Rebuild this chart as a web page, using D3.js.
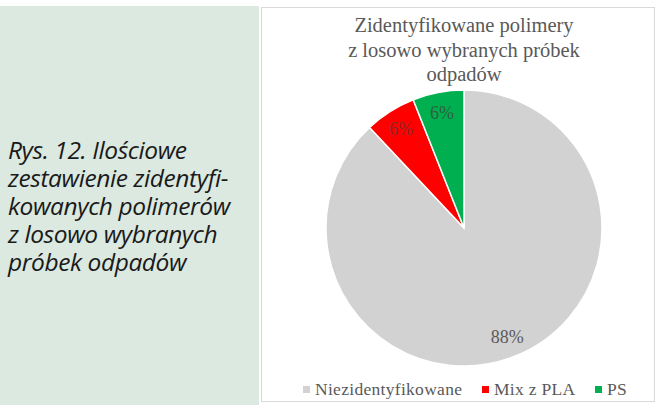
<!DOCTYPE html>
<html>
<head>
<meta charset="utf-8">
<script src="https://cdn.jsdelivr.net/npm/d3@7"></script>
<style>
  html, body { margin: 0; padding: 0; background: #ffffff; }
  svg { display: block; }
</style>
</head>
<body>
<svg id="fig" width="657" height="405"></svg>
<script>
// Polymer identification results for random waste samples
const categories = ["Niezidentyfikowane", "Mix z PLA", "PS"];
const shares = [88, 6, 6];
const sliceColors = ["#d2d2d2", "#ff0000", "#00b050"];
const labelColors = ["#5a5a5a", "#8c2a2a", "#2f5f3f"];
const titleLines = ["Zidentyfikowane polimery", "z losowo wybranych próbek", "odpadów"];
const captionLines = ["Rys. 12. Ilościowe", "zestawienie zidentyfi-", "kowanych polimerów", "z losowo wybranych", "próbek odpadów"];

const svg = d3.select("#fig");

// Caption side panel
svg.append("rect").attr("x", 0).attr("y", 6).attr("width", 259).attr("height", 399).attr("fill", "#dbe9e0");
const cap = svg.append("text")
  .attr("font-family", "'Open Sans', sans-serif")
  .attr("font-style", "italic")
  .attr("font-size", 24.5)
  .attr("letter-spacing", "-0.4")
  .attr("fill", "#1a1a1a");
captionLines.forEach((t, i) => {
  cap.append("tspan").attr("x", 8).attr("y", 159 + i * 28).text(t);
});

// Chart frame
svg.append("rect").attr("x", 261.5).attr("y", 7.5).attr("width", 393).attr("height", 394)
  .attr("fill", "#ffffff").attr("stroke", "#d9d9d9").attr("stroke-width", 1);

// Title
const title = svg.append("text")
  .attr("text-anchor", "middle")
  .attr("font-family", "'Liberation Serif', 'Times New Roman', serif")
  .attr("font-size", 20.5)
  .attr("fill", "#595959");
titleLines.forEach((t, i) => {
  title.append("tspan").attr("x", 464).attr("y", 32 + i * 24.5).text(t);
});

// Pie
const cx = 464, cy = 228, r = 138;
const pie = d3.pie().sort(null).value(d => d)(shares);
const arc = d3.arc().innerRadius(0).outerRadius(r);
const g = svg.append("g").attr("transform", `translate(${cx},${cy})`);
g.selectAll("path").data(pie).join("path")
  .attr("d", arc)
  .attr("fill", (d, i) => sliceColors[i])
  .attr("stroke", "#ffffff")
  .attr("stroke-width", 1.5);

// Value labels, placed along each slice's mid-angle
const labelArc = d3.arc().innerRadius(0).outerRadius(r * 1.7);
g.selectAll("text.val").data(pie).join("text")
  .attr("class", "val")
  .attr("transform", d => `translate(${labelArc.centroid(d)})`)
  .attr("text-anchor", "middle")
  .attr("dy", "0.35em")
  .attr("font-family", "'Liberation Serif', 'Times New Roman', serif")
  .attr("font-size", 18)
  .attr("fill", (d, i) => labelColors[i])
  .text(d => d.value + "%");

// Legend
const legendX = [303, 482, 595];
const leg = svg.append("g");
categories.forEach((c, i) => {
  leg.append("rect").attr("x", legendX[i]).attr("y", 386).attr("width", 7).attr("height", 7)
    .attr("fill", sliceColors[i]);
  leg.append("text").attr("x", legendX[i] + 12).attr("y", 395)
    .attr("font-family", "'Liberation Serif', 'Times New Roman', serif")
    .attr("font-size", 17.5)
    .attr("letter-spacing", "0.3")
    .attr("fill", "#595959")
    .text(c);
});
</script>
</body>
</html>
